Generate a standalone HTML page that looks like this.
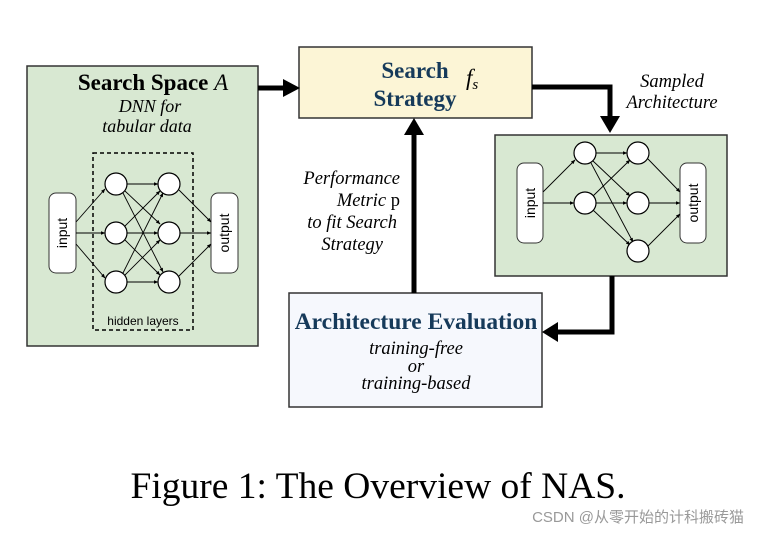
<!DOCTYPE html>
<html><head><meta charset="utf-8"><style>
html,body{margin:0;padding:0;background:#fff;width:759px;height:533px;overflow:hidden}
svg text{font-family:"Liberation Serif",serif}
</style></head><body>
<svg width="759" height="533" viewBox="0 0 759 533" xmlns="http://www.w3.org/2000/svg">
<defs>
<marker id="a" viewBox="0 0 10 10" refX="9" refY="5" markerWidth="5" markerHeight="5" orient="auto"><path d="M0,1 L10,5 L0,9 z" fill="#000"/></marker>
</defs>
<rect x="27" y="66" width="231" height="280" fill="#d8e8d2" stroke="#333" stroke-width="1.5"/>
<text x="153" y="90" font-size="23" font-weight="bold" text-anchor="middle">Search Space <tspan font-style="italic" font-weight="normal">A</tspan></text>
<text x="150" y="112" font-size="18" font-style="italic" text-anchor="middle">DNN for</text>
<text x="147" y="132" font-size="18" font-style="italic" text-anchor="middle">tabular data</text>
<rect x="93" y="153" width="100" height="177" fill="none" stroke="#000" stroke-width="1.5" stroke-dasharray="4,3"/>
<text x="143" y="325" font-size="12" text-anchor="middle" style="font-family:'Liberation Sans',sans-serif">hidden layers</text>
<rect x="49" y="193" width="27" height="80" rx="7" fill="#fff" stroke="#333"/>
<text transform="translate(67,233) rotate(-90)" font-size="14" text-anchor="middle" style="font-family:'Liberation Sans',sans-serif">input</text>
<rect x="211" y="193" width="27" height="80" rx="7" fill="#fff" stroke="#333"/>
<text transform="translate(229,233) rotate(-90)" font-size="14" text-anchor="middle" style="font-family:'Liberation Sans',sans-serif">output</text>
<g stroke="#000" stroke-width="0.9" marker-end="url(#a)">
<line x1="76" y1="222" x2="105" y2="189"/><line x1="76" y1="233" x2="105" y2="233"/><line x1="76" y1="244" x2="105" y2="278"/>
<line x1="127" y1="184" x2="158" y2="184"/><line x1="125" y1="191" x2="160" y2="224"/><line x1="123" y1="193" x2="163" y2="272"/>
<line x1="125" y1="226" x2="160" y2="191"/><line x1="127" y1="233" x2="158" y2="233"/><line x1="125" y1="240" x2="160" y2="275"/>
<line x1="123" y1="273" x2="163" y2="193"/><line x1="125" y1="275" x2="160" y2="240"/><line x1="127" y1="282" x2="158" y2="282"/>
<line x1="179" y1="190" x2="211" y2="222"/><line x1="180" y1="233" x2="211" y2="233"/><line x1="179" y1="276" x2="211" y2="244"/>
</g>
<g fill="#fff" stroke="#000" stroke-width="1.2">
<circle cx="116" cy="184" r="11"/><circle cx="116" cy="233" r="11"/><circle cx="116" cy="282" r="11"/>
<circle cx="169" cy="184" r="11"/><circle cx="169" cy="233" r="11"/><circle cx="169" cy="282" r="11"/>
</g>
<rect x="299" y="47" width="233" height="71" fill="#fcf5d6" stroke="#333" stroke-width="1.5"/>
<text x="415" y="78" font-size="23" font-weight="bold" fill="#163a5a" text-anchor="middle">Search</text>
<text x="415" y="106" font-size="23" font-weight="bold" fill="#163a5a" text-anchor="middle">Strategy</text>
<text x="466" y="85" font-size="23" font-style="italic">f<tspan font-size="15" dy="4">s</tspan></text>
<rect x="495" y="135" width="232" height="141" fill="#d8e8d2" stroke="#333" stroke-width="1.5"/>
<rect x="517" y="163" width="26" height="80" rx="7" fill="#fff" stroke="#333"/>
<text transform="translate(535,203) rotate(-90)" font-size="14" text-anchor="middle" style="font-family:'Liberation Sans',sans-serif">input</text>
<rect x="680" y="163" width="26" height="80" rx="7" fill="#fff" stroke="#333"/>
<text transform="translate(698,203) rotate(-90)" font-size="14" text-anchor="middle" style="font-family:'Liberation Sans',sans-serif">output</text>
<g stroke="#000" stroke-width="0.9" marker-end="url(#a)">
<line x1="543" y1="192" x2="575" y2="160"/><line x1="543" y1="203" x2="574" y2="203"/>
<line x1="596" y1="153" x2="627" y2="153"/><line x1="593" y1="161" x2="630" y2="196"/><line x1="591" y1="163" x2="633" y2="242"/>
<line x1="593" y1="196" x2="630" y2="160"/><line x1="596" y1="203" x2="627" y2="203"/><line x1="593" y1="210" x2="630" y2="245"/>
<line x1="648" y1="159" x2="680" y2="192"/><line x1="649" y1="203" x2="680" y2="203"/><line x1="648" y1="246" x2="680" y2="214"/>
</g>
<g fill="#fff" stroke="#000" stroke-width="1.2">
<circle cx="585" cy="153" r="11"/><circle cx="585" cy="203" r="11"/>
<circle cx="638" cy="153" r="11"/><circle cx="638" cy="203" r="11"/><circle cx="638" cy="251" r="11"/>
</g>
<text x="672" y="87" font-size="18.5" font-style="italic" text-anchor="middle">Sampled</text>
<text x="672" y="108" font-size="18.5" font-style="italic" text-anchor="middle">Architecture</text>
<rect x="289" y="293" width="253" height="114" fill="#f6f8fd" stroke="#333" stroke-width="1.5"/>
<text x="416" y="329" font-size="23.5" font-weight="bold" fill="#163a5a" text-anchor="middle">Architecture Evaluation</text>
<text x="416" y="354" font-size="18.5" font-style="italic" text-anchor="middle">training-free</text>
<text x="416" y="372" font-size="18.5" font-style="italic" text-anchor="middle">or</text>
<text x="416" y="389" font-size="18.5" font-style="italic" text-anchor="middle">training-based</text>
<text x="400" y="184" font-size="18.5" font-style="italic" text-anchor="end">Performance</text>
<text x="400" y="206" font-size="18.5" font-style="italic" text-anchor="end">Metric <tspan font-style="normal">p</tspan></text>
<text x="397" y="228" font-size="18.5" font-style="italic" text-anchor="end">to fit Search</text>
<text x="383" y="250" font-size="18.5" font-style="italic" text-anchor="end">Strategy</text>
<g stroke="#000" stroke-width="5" fill="none">
<polyline points="258,88 284,88"/>
<polyline points="532,87 610,87 610,118"/>
<polyline points="612,276 612,332 557,332"/>
<polyline points="414,293 414,133"/>
</g>
<g fill="#000">
<polygon points="283,79 300,88 283,97"/>
<polygon points="600,116 620,116 610,133"/>
<polygon points="558,322 558,342 542,332"/>
<polygon points="404,135 424,135 414,118"/>
</g>
<text x="378" y="498" font-size="37.5" text-anchor="middle">Figure 1: The Overview of NAS.</text>
<text x="744" y="522" font-size="15" fill="#999" text-anchor="end" style="font-family:'Liberation Sans','Noto Sans CJK SC',sans-serif">CSDN @从零开始的计科搬砖猫</text>
</svg>
</body></html>
